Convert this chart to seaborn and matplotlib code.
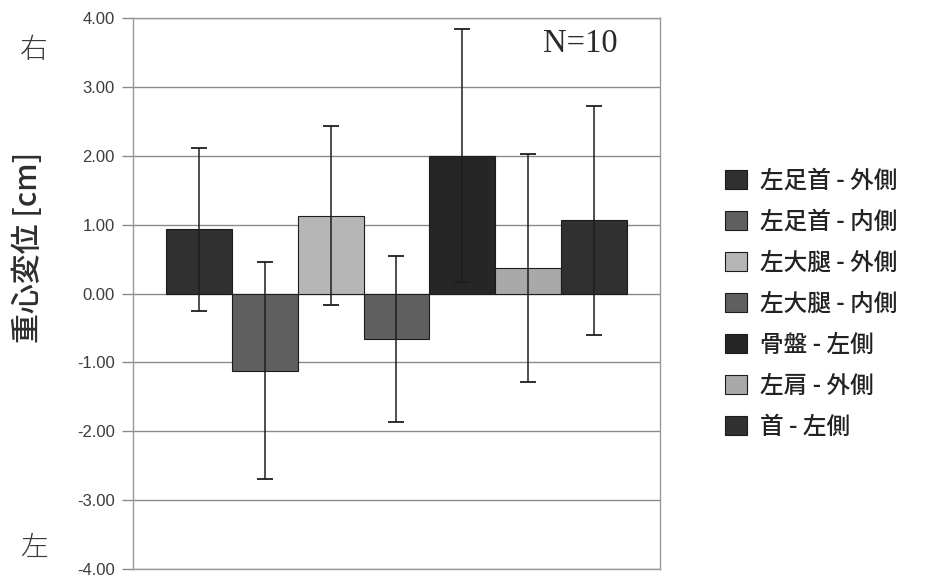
import numpy as np
import pandas as pd
import matplotlib
matplotlib.use("Agg")
import matplotlib.pyplot as plt
import seaborn as sns

# --- data ---
parts = ["左足首 - 外側", "左足首 - 内側", "左大腿 - 外側", "左大腿 - 内側",
         "骨盤 - 左側", "左肩 - 外側", "首 - 左側"]
means = [0.93, -1.12, 1.13, -0.66, 2.00, 0.37, 1.06]
errors = [1.18, 1.58, 1.30, 1.20, 1.84, 1.65, 1.66]
bar_colors = ["#303030", "#5f5f5f", "#b6b6b6", "#5f5f5f", "#262626", "#a9a9a9", "#303030"]
yticks = [-4, -3, -2, -1, 0, 1, 2, 3, 4]
ylabel = "重心変位 [cm]"
n_label = "N=10"

sns.set_theme(style="white")
plt.rcParams["font.family"] = ["Noto Sans CJK JP", "DejaVu Sans"]

fig = plt.figure(figsize=(9.39, 5.80), dpi=100)
ax = fig.add_axes([133 / 939, 1 - 569 / 580, 527 / 939, 551 / 580])

df = pd.DataFrame({"group": [""] * len(parts), "part": parts, "value": means})
sns.barplot(data=df, x="group", y="value", hue="part", hue_order=parts,
            palette=bar_colors, width=0.873, gap=0, errorbar=None,
            edgecolor="#1c1c1c", linewidth=0.8, ax=ax)

# error bars on top of each bar
for cont, err in zip(ax.containers, errors):
    bar = cont.patches[0]
    ax.errorbar(bar.get_x() + bar.get_width() / 2, bar.get_height(), yerr=err,
                fmt="none", ecolor="#1e1e1e", elinewidth=1.1, capsize=5.5,
                capthick=1.3, zorder=5)

ax.set_xlim(-0.5, 0.5)
ax.set_ylim(-4, 4)
ax.set_yticks(yticks)
ax.set_yticklabels([f"{v:.2f}" for v in yticks], fontfamily="Liberation Sans",
                   fontsize=12, color="#3c3c3c")
ax.set_xticks([])
ax.set_xlabel("")
ax.yaxis.grid(True, color="#8a8a8a", linewidth=1)
ax.set_axisbelow(True)
ax.tick_params(axis="y", left=True, length=8, width=1, color="#8a8a8a", pad=5)
for side in ["left", "right", "top", "bottom"]:
    ax.spines[side].set_color("#9a9a9a")
    ax.spines[side].set_linewidth(1)

ax.set_ylabel(ylabel, fontsize=21.5, color="#2e2e2e", fontweight="medium")
ax.yaxis.set_label_coords(-0.168, 0.584)

ax.text(0.848, 0.953, n_label, transform=ax.transAxes, ha="center", va="center",
        fontfamily="Liberation Serif", fontsize=23.5, color="#2a2a2a")

fig.text(34 / 939, 1 - 50 / 580, "右", fontsize=20, color="#3a3a3a",
         fontweight="light", ha="center", va="center")
fig.text(34 / 939, 1 - 548 / 580, "左", fontsize=20, color="#3a3a3a",
         fontweight="light", ha="center", va="center")

handles, labels = ax.get_legend_handles_labels()
if ax.get_legend() is not None:
    ax.get_legend().remove()
fig.legend(handles, labels, loc="upper left", bbox_to_anchor=(725 / 939, 1 - 170 / 580),
           frameon=False, borderpad=0, borderaxespad=0,
           prop={"size": 17, "weight": "medium"}, handlelength=0.93, handleheight=0.85,
           handletextpad=0.55, labelspacing=0.76, labelcolor="#222222")

fig.savefig("out.png", dpi=100)
